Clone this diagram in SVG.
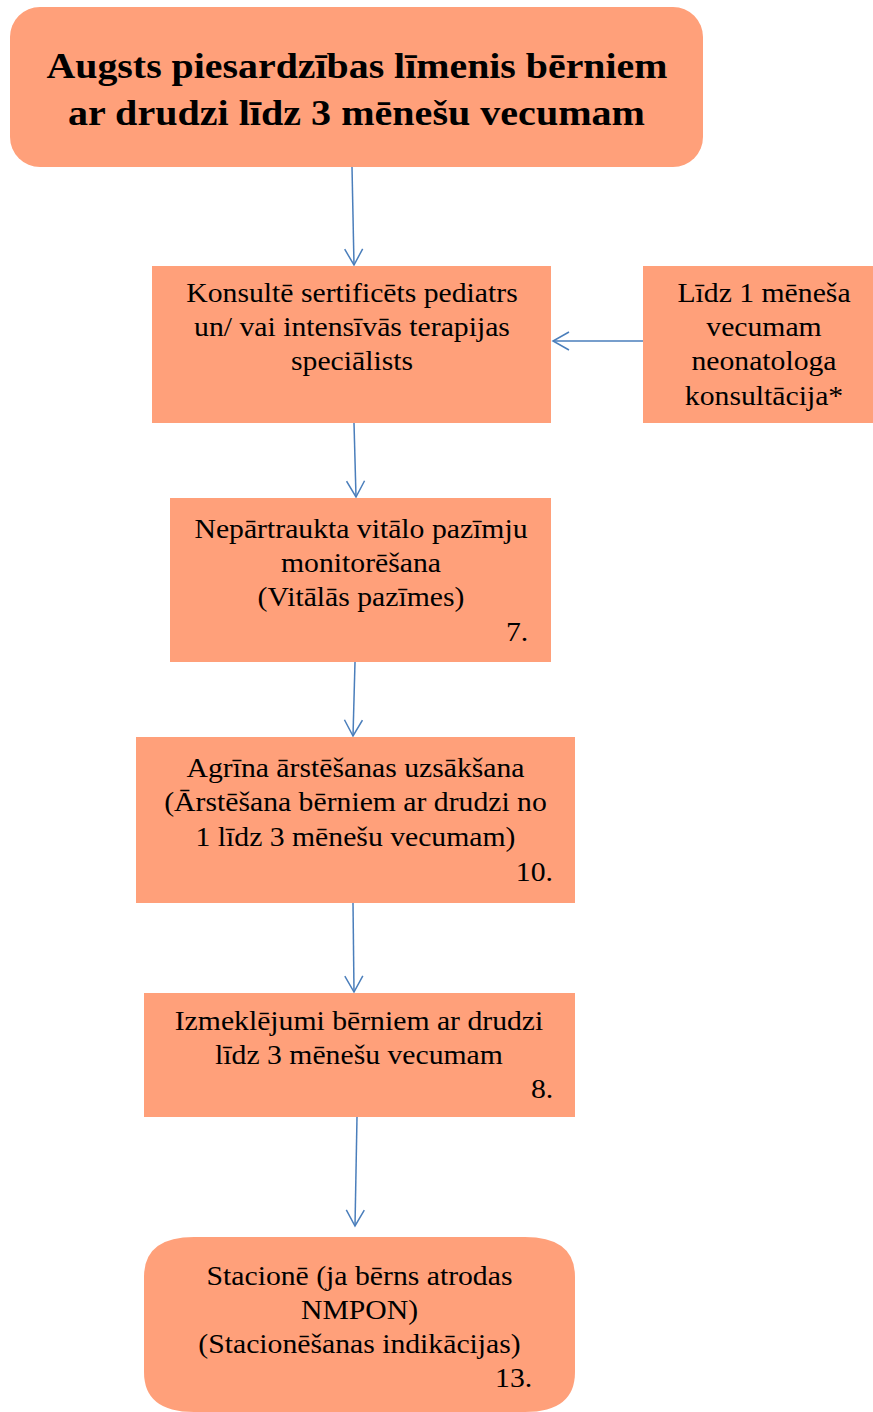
<svg xmlns="http://www.w3.org/2000/svg" width="873" height="1412" viewBox="0 0 873 1412">
<defs>
<style>
.box{fill:#FFA07A;}
.t{font-family:'Liberation Serif','Times New Roman',serif;font-size:27px;fill:#000;text-anchor:middle;}
.r{text-anchor:end;}
.title{font-family:'Liberation Serif','Times New Roman',serif;font-size:35px;font-weight:bold;fill:#000;}
.c{stroke:#4A7EBB;stroke-width:1.5;fill:none;}
</style>
<marker id="ah" viewBox="0 0 20 20" refX="17" refY="10" markerWidth="20" markerHeight="20" markerUnits="userSpaceOnUse" orient="auto">
<path d="M1,1 L17,10 L1,19" fill="none" stroke="#4A7EBB" stroke-width="1.5"/>
</marker>
</defs>
<rect width="873" height="1412" fill="#fff"/>
<g id="connectors">
<line class="c" x1="352" y1="167" x2="354" y2="265" marker-end="url(#ah)"/>
<line class="c" x1="643" y1="341" x2="553" y2="341" marker-end="url(#ah)"/>
<line class="c" x1="354" y1="423" x2="356" y2="497" marker-end="url(#ah)"/>
<line class="c" x1="355" y1="662" x2="353" y2="736" marker-end="url(#ah)"/>
<line class="c" x1="353" y1="903" x2="354" y2="992" marker-end="url(#ah)"/>
<line class="c" x1="357" y1="1117" x2="355" y2="1226" marker-end="url(#ah)"/>
</g>
<g id="node-title">
<rect class="box" x="10" y="7" width="693" height="160" rx="30"/>
<text class="title" x="46.5" y="78" textLength="621" lengthAdjust="spacingAndGlyphs">Augsts piesardzības līmenis bērniem</text>
<text class="title" x="68" y="125" textLength="577" lengthAdjust="spacingAndGlyphs">ar drudzi līdz 3 mēnešu vecumam</text>
</g>
<g id="node-konsulte">
<rect class="box" x="152" y="266" width="399" height="157"/>
<g transform="translate(352,0) scale(1.1,1)">
<text class="t" x="0" y="302.5">Konsultē sertificēts pediatrs</text>
<text class="t" x="0" y="336.5">un/ vai intensīvās terapijas</text>
<text class="t" x="0" y="370.5">speciālists</text>
</g>
</g>
<g id="node-neonatologs">
<rect class="box" x="643" y="266" width="230" height="157"/>
<g transform="translate(764,0) scale(1.1,1)">
<text class="t" x="0" y="302.5">Līdz 1 mēneša</text>
<text class="t" x="0" y="336.5">vecumam</text>
<text class="t" x="0" y="370.5">neonatologa</text>
<text class="t" x="0" y="405">konsultācija*</text>
</g>
</g>
<g id="node-monitoresana">
<rect class="box" x="170" y="498" width="381" height="164"/>
<g transform="translate(361,0) scale(1.1,1)">
<text class="t" x="0" y="538">Nepārtraukta vitālo pazīmju</text>
<text class="t" x="0" y="572">monitorēšana</text>
<text class="t" x="0" y="606.5">(Vitālās pazīmes)</text>
<text class="t r" x="152" y="641">7.</text>
</g>
</g>
<g id="node-arstesana">
<rect class="box" x="136" y="737" width="439" height="166"/>
<g transform="translate(355.5,0) scale(1.1,1)">
<text class="t" x="0" y="777.5">Agrīna ārstēšanas uzsākšana</text>
<text class="t" x="0" y="811.5">(Ārstēšana bērniem ar drudzi no</text>
<text class="t" x="0" y="846">1 līdz 3 mēnešu vecumam)</text>
<text class="t r" x="179.5" y="881">10.</text>
</g>
</g>
<g id="node-izmeklejumi">
<rect class="box" x="144" y="993" width="431" height="124"/>
<g transform="translate(359,0) scale(1.1,1)">
<text class="t" x="0" y="1030">Izmeklējumi bērniem ar drudzi</text>
<text class="t" x="0" y="1064">līdz 3 mēnešu vecumam</text>
<text class="t r" x="176.5" y="1098.5">8.</text>
</g>
</g>
<g id="node-stacione">
<path class="box" d="M194,1237 H525 Q575,1237 575,1277 V1372 Q575,1412 525,1412 H194 Q144,1412 144,1372 V1277 Q144,1237 194,1237 Z"/>
<g transform="translate(359.5,0) scale(1.1,1)">
<text class="t" x="0" y="1285">Stacionē (ja bērns atrodas</text>
<text class="t" x="0" y="1319">NMPON)</text>
<text class="t" x="0" y="1353">(Stacionēšanas indikācijas)</text>
<text class="t r" x="157" y="1387">13.</text>
</g>
</g>
</svg>
